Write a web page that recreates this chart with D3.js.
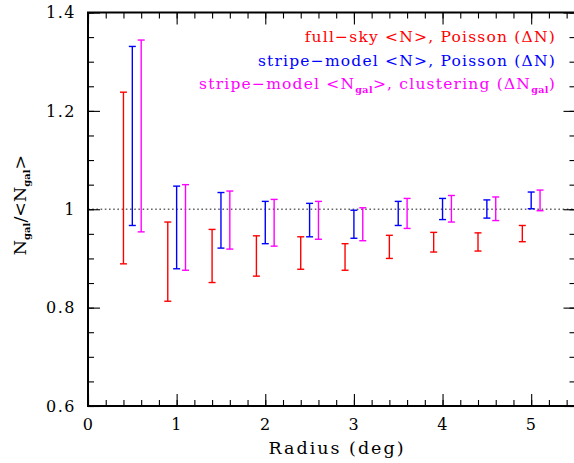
<!DOCTYPE html>
<html>
<head>
<meta charset="utf-8">
<script src="https://cdn.jsdelivr.net/npm/d3@7"></script>
<style>
  body { margin: 0; background: #fff; }
  text { font-family: "DejaVu Serif", serif; }
</style>
</head>
<body>
<svg id="chart" width="574" height="463"></svg>
<script>
// radius bins and error bar ranges (lo / hi)
var radius = [0.5, 1.0, 1.5, 2.0, 2.5, 3.0, 3.5, 4.0, 4.5, 5.0]
var fullskyLo = [0.889, 0.813, 0.851, 0.864, 0.878, 0.876, 0.900, 0.913, 0.915, 0.934]
var fullskyHi = [1.238, 0.974, 0.959, 0.946, 0.944, 0.930, 0.947, 0.953, 0.952, 0.967]
var stripeLo = [0.967, 0.879, 0.921, 0.930, 0.944, 0.941, 0.967, 0.979, 0.982, 1.001]
var stripeHi = [1.331, 1.047, 1.034, 1.016, 1.012, 0.998, 1.016, 1.022, 1.019, 1.035]
var clusterLo = [0.954, 0.876, 0.919, 0.925, 0.939, 0.936, 0.961, 0.974, 0.977, 0.997]
var clusterHi = [1.344, 1.050, 1.037, 1.020, 1.016, 1.003, 1.022, 1.028, 1.025, 1.039]
var seriesOffset = [-0.1, 0, 0.1]

var xTickValues = [0, 1, 2, 3, 4, 5]
var xTickLabels = ['0', '1', '2', '3', '4', '5']
var yTickValues = [0.6, 0.8, 1.0, 1.2, 1.4]
var yTickLabels = ['0.6', '0.8', '1', '1.2', '1.4']

var svg = d3.select('#chart')
var x = d3.scaleLinear().domain([0, 5.5]).range([88, 575.5])
var y = d3.scaleLinear().domain([0.6, 1.4]).range([406, 12.5])

var series = [
    { lo: fullskyLo, hi: fullskyHi, color: '#ff0000', off: seriesOffset[0] },
    { lo: stripeLo, hi: stripeHi, color: '#0000ff', off: seriesOffset[1] },
    { lo: clusterLo, hi: clusterHi, color: '#ff00ff', off: seriesOffset[2] }
]

// reference line at 1
svg.append('line')
   .attr('x1', x(0)).attr('x2', x(5.5))
   .attr('y1', y(1)).attr('y2', y(1))
   .attr('stroke', '#666')
   .attr('stroke-width', 1.6)
   .attr('stroke-dasharray', '1.6,2.6')

// error bars
var capW = 3.5
series.forEach(function (s) {
    var g = svg.append('g').attr('stroke', s.color).attr('stroke-width', 1.4).attr('fill', 'none')
    radius.forEach(function (r, i) {
        var cx = x(r + s.off)
        g.append('line').attr('x1', cx).attr('x2', cx).attr('y1', y(s.lo[i])).attr('y2', y(s.hi[i]))
        g.append('line').attr('x1', cx - capW).attr('x2', cx + capW).attr('y1', y(s.lo[i])).attr('y2', y(s.lo[i]))
        g.append('line').attr('x1', cx - capW).attr('x2', cx + capW).attr('y1', y(s.hi[i])).attr('y2', y(s.hi[i]))
    })
})

// axes: major ticks with labels, minor ticks without, mirrored on top / right
var xMinor = d3.range(0, 5.6, 0.2)
var yMinor = d3.range(0.6, 1.41, 0.05)
var H = y.range()[0], T = y.range()[1], L = x.range()[0], R = x.range()[1]

function styleAxis(sel) {
    sel.select('.domain').remove()
    sel.selectAll('.tick line').attr('stroke', '#000').attr('stroke-width', 1.1)
    sel.selectAll('.tick text')
       .attr('font-family', '"DejaVu Serif", serif')
       .attr('font-size', 16)
       .attr('letter-spacing', 1.5)
       .attr('fill', '#000')
}

svg.append('g').attr('transform', 'translate(0,' + H + ')')
   .call(d3.axisBottom(x).tickValues(xMinor).tickSize(-6).tickFormat(''))
   .call(styleAxis)
svg.append('g').attr('transform', 'translate(0,' + H + ')')
   .call(d3.axisBottom(x).tickValues(xTickValues).tickSize(-12).tickPadding(8)
         .tickFormat(function (d, i) { return xTickLabels[i] }))
   .call(styleAxis)
   .selectAll('.tick text').attr('dy', '1em')
svg.append('g').attr('transform', 'translate(0,' + T + ')')
   .call(d3.axisTop(x).tickValues(xMinor).tickSize(-6).tickFormat(''))
   .call(styleAxis)
svg.append('g').attr('transform', 'translate(0,' + T + ')')
   .call(d3.axisTop(x).tickValues(xTickValues).tickSize(-12).tickFormat(''))
   .call(styleAxis)

svg.append('g').attr('transform', 'translate(' + L + ',0)')
   .call(d3.axisLeft(y).tickValues(yMinor).tickSize(-6).tickFormat(''))
   .call(styleAxis)
svg.append('g').attr('transform', 'translate(' + L + ',0)')
   .call(d3.axisLeft(y).tickValues(yTickValues).tickSize(-12).tickPadding(12)
         .tickFormat(function (d, i) { return yTickLabels[i] }))
   .call(styleAxis)
svg.append('g').attr('transform', 'translate(' + R + ',0)')
   .call(d3.axisRight(y).tickValues(yMinor).tickSize(-6).tickFormat(''))
   .call(styleAxis)
svg.append('g').attr('transform', 'translate(' + R + ',0)')
   .call(d3.axisRight(y).tickValues(yTickValues).tickSize(-12).tickFormat(''))
   .call(styleAxis)

// frame
svg.append('rect')
   .attr('x', L).attr('y', T).attr('width', R - L).attr('height', H - T)
   .attr('fill', 'none').attr('stroke', '#000').attr('stroke-width', 2)

// axis titles
svg.append('text')
   .attr('x', 337).attr('y', 454)
   .attr('text-anchor', 'middle')
   .attr('font-size', 17.5).attr('letter-spacing', 2)
   .text('Radius (deg)')

var yl = svg.append('text')
   .attr('transform', 'translate(26,205) rotate(-90)')
   .attr('text-anchor', 'middle')
   .attr('font-size', 17.5)
yl.append('tspan').text('N')
yl.append('tspan').attr('font-size', 10).attr('font-weight', 'bold').attr('dy', 4).text('gal')
yl.append('tspan').attr('dy', -4).text('/<N')
yl.append('tspan').attr('font-size', 10).attr('font-weight', 'bold').attr('dy', 4).text('gal')
yl.append('tspan').attr('dy', -4).text('>')

// legend
var legendX = 556
function legendLine(yy, color, parts) {
    var t = svg.append('text')
       .attr('x', legendX).attr('y', yy)
       .attr('text-anchor', 'end')
       .attr('font-size', 15.5).attr('letter-spacing', 1.2)
       .attr('fill', color)
    var shift = 0
    parts.forEach(function (p) {
        var sub = p.charAt(0) === '_'
        var ts = t.append('tspan').text(sub ? p.slice(1) : p)
        var dy = (sub ? 4 : 0) - shift
        if (dy) ts.attr('dy', dy)
        if (sub) ts.attr('font-size', 9.5).attr('font-weight', 'bold').attr('letter-spacing', 0.4)
        shift = sub ? 4 : 0
    })
}
legendLine(42, '#ff0000', ['full\u2212sky <N>, Poisson (\u0394N)'])
legendLine(66, '#0000ff', ['stripe\u2212model <N>, Poisson (\u0394N)'])
legendLine(89, '#ff00ff', ['stripe\u2212model <N', '_gal', '>, clustering (\u0394N', '_gal', ')'])
</script>
</body>
</html>
